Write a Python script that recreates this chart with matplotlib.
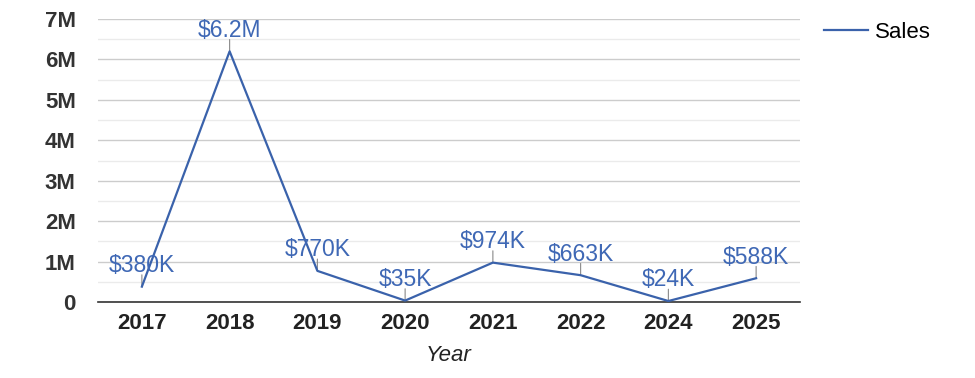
import matplotlib.pyplot as plt
import numpy as np

plt.rcParams['font.family'] = ['Liberation Sans', 'DejaVu Sans']

# data
years = ['2017', '2018', '2019', '2020', '2021', '2022', '2024', '2025']
sales = [380000, 6200000, 770000, 35000, 974000, 663000, 24000, 588000]
labels = ['$380K', '$6.2M', '$770K', '$35K', '$974K', '$663K', '$24K', '$588K']
yticks = [0, 1e6, 2e6, 3e6, 4e6, 5e6, 6e6, 7e6]
ytick_labels = ['0', '1M', '2M', '3M', '4M', '5M', '6M', '7M']

line_color = '#3a62ab'
text_color = '#3f68b5'

fig = plt.figure(figsize=(9.75, 3.78), dpi=100)
ax = fig.add_axes([98 / 975, 1 - 302 / 378, 702 / 975, 283 / 378])

x = np.arange(len(years))
ax.plot(x, sales, color=line_color, lw=1.6, label='Sales', zorder=3)

# annotations: short stem + value label
for xi, yi, lab in zip(x, sales, labels):
    ax.annotate('', xy=(xi, yi), xytext=(0, 8.5), textcoords='offset points',
                arrowprops=dict(arrowstyle='-', color='#888888', lw=0.8,
                                shrinkA=0, shrinkB=0), zorder=2)
    ax.annotate(lab, xy=(xi, yi), xytext=(0, 10.5), textcoords='offset points',
                ha='center', va='baseline', fontsize=16.5, color=text_color, zorder=4)

ax.set_xlim(-0.5, len(years) - 0.5)
ax.set_ylim(0, 7e6)

ax.set_yticks(yticks)
ax.set_yticklabels(ytick_labels, fontsize=16, fontweight='bold', color='#333333')
ax.set_yticks(np.arange(0.5e6, 7e6, 1e6), minor=True)
ax.set_xticks(x)
ax.set_xticklabels(years, fontsize=16, fontweight='bold', color='#222222')
ax.tick_params(axis='both', which='both', length=0)
ax.tick_params(axis='y', pad=16)
ax.tick_params(axis='x', pad=8)

ax.grid(axis='y', which='major', color='#cccccc', lw=1)
ax.grid(axis='y', which='minor', color='#ebebeb', lw=1)
ax.set_axisbelow(True)

for side in ['top', 'right', 'left']:
    ax.spines[side].set_visible(False)
ax.spines['bottom'].set_color('#333333')
ax.spines['bottom'].set_linewidth(1.2)

ax.set_xlabel('Year', fontsize=16, style='italic', color='#222222', labelpad=8)

ax.legend(loc='upper left', bbox_to_anchor=(1.005, 1.06), frameon=False,
          fontsize=16, handlelength=2.0, handletextpad=0.3)

fig.savefig('out.png', dpi=100)
